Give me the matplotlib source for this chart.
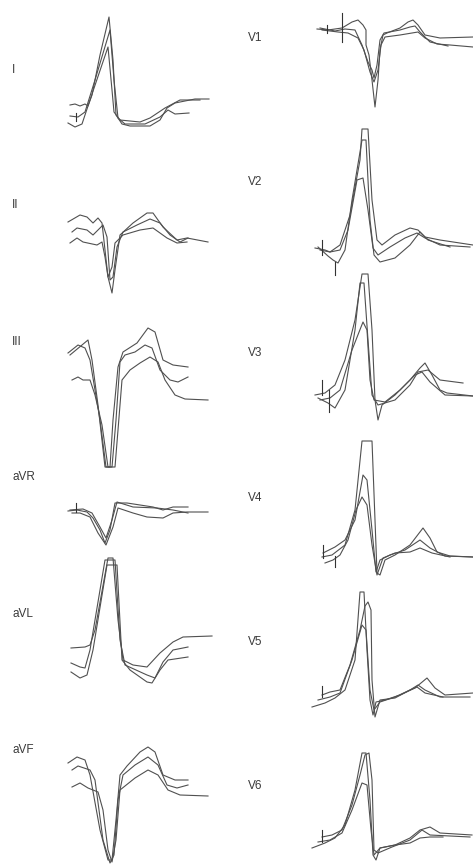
import matplotlib
matplotlib.use("Agg")
import matplotlib.pyplot as plt

plt.rcParams['font.family'] = ['Liberation Sans', 'DejaVu Sans']

# lead names, two columns
left_leads = ["I", "II", "III", "aVR", "aVL", "aVF"]
right_leads = ["V1", "V2", "V3", "V4", "V5", "V6"]

# each trace: (time offsets, amplitudes) relative to the lead start / baseline
I_traces = [
    ([2, 7, 12, 17, 20, 24, 32, 41, 45, 48, 54, 62, 72, 82, 92, 99, 107, 117, 127, 141],
     [11, 12, 10, 12, 10, 21, 61, 99, 56, 1, -8, -10, -10, -10, -4, 8, 13, 15, 17, 17]),
    ([2, 10, 17, 27, 42, 46, 50, 57, 77, 92, 100, 107, 121],
     [0, -1, 4, 36, 86, 36, -2, -8, -8, -1, 6, 2, 3]),
    ([0, 7, 14, 22, 40, 44, 46, 52, 72, 82, 97, 112, 132],
     [-7, -11, -8, 16, 69, 26, 4, -4, -6, -2, 8, 16, 16]),
]
II_traces = [
    ([0, 12, 19, 25, 30, 34, 40, 44, 47, 52, 65, 79, 85, 95, 109, 119, 140],
     [13, 20, 18, 12, 17, 12, -42, -58, -35, 0, 12, 22, 22, 8, -5, -3, -7]),
    ([4, 9, 19, 25, 30, 35, 39, 42, 45, 49, 55, 69, 82, 92, 102, 112, 120],
     [3, 7, 5, 0, 5, 10, -2, -45, -42, -12, 3, 10, 16, 12, 0, -7, -3]),
    ([2, 9, 15, 29, 34, 37, 40, 44, 47, 55, 72, 85, 99, 109, 119],
     [-8, -3, -7, -10, -7, -22, -42, -32, -8, 0, 5, 7, -3, -8, -7]),
]
III_traces = [
    ([0, 10, 17, 22, 32, 38, 42, 45, 50, 55, 69, 80, 87, 95, 105, 120],
     [2, 10, 7, -5, -65, -112, -112, -65, -12, 3, 12, 27, 23, -5, -10, -12]),
    ([2, 8, 20, 24, 30, 37, 44, 48, 52, 57, 67, 77, 84, 92, 102, 110, 120],
     [0, 5, 15, -5, -50, -112, -112, -65, -7, 0, 3, 10, 7, -15, -25, -27, -22]),
    ([4, 10, 15, 22, 27, 34, 40, 47, 50, 54, 62, 72, 82, 90, 97, 107, 117, 140],
     [-25, -22, -25, -25, -40, -70, -112, -112, -75, -25, -15, -8, -2, -7, -25, -40, -44, -45]),
]
aVR_traces = [
    ([0, 9, 19, 25, 32, 37, 42, 47, 59, 85, 95, 105, 120],
     [1, 2, 0, -6, -18, -31, -18, 9, 9, 5, 2, 5, 5]),
    ([2, 15, 24, 32, 38, 44, 49, 65, 89, 105, 120],
     [2, 3, -1, -15, -26, -8, 10, 5, 4, 2, -1]),
    ([4, 12, 22, 30, 38, 45, 50, 65, 79, 95, 105, 119, 140],
     [-1, -1, -5, -21, -33, -15, 4, -1, -5, -6, -1, 0, 0]),
]
aVL_traces = [
    ([3, 17, 22, 27, 40, 45, 50, 55, 65, 79, 92, 105, 115, 144],
     [15, 16, 18, 33, 105, 105, 43, 3, -2, -4, 10, 21, 26, 27]),
    ([3, 12, 17, 22, 37, 47, 52, 57, 79, 87, 95, 105, 120],
     [0, -4, -5, 13, 103, 103, 23, -2, -12, -15, 1, 13, 16]),
    ([3, 12, 19, 25, 39, 49, 54, 62, 79, 84, 92, 100, 120],
     [-9, -15, -12, 13, 98, 98, 3, -7, -19, -20, -7, 3, 6]),
]
aVF_traces = [
    ([0, 9, 17, 22, 32, 40, 44, 48, 52, 59, 72, 80, 87, 95, 107, 120],
     [12, 18, 15, 0, -55, -85, -85, -45, 0, 9, 23, 28, 23, 0, -5, -5]),
    ([4, 10, 22, 27, 35, 42, 46, 50, 55, 67, 80, 90, 99, 109, 120],
     [5, 9, 5, -5, -65, -88, -80, -25, 0, 10, 18, 10, -10, -13, -10]),
    ([4, 12, 20, 30, 35, 40, 44, 48, 52, 67, 80, 90, 100, 112, 140],
     [-12, -8, -13, -17, -35, -75, -87, -65, -15, -3, 5, 0, -15, -20, -21]),
]
V1_traces = [
    ([5, 16, 30, 40, 46, 51, 54, 54, 57, 60, 63, 66, 68, 71, 75, 88, 96, 101, 106, 113, 128, 161],
     [1, 0, 2, 8, 10, 5, 0, -15, -25, -50, -77, -50, -20, -5, -3, 2, 8, 10, 5, -5, -8, -7]),
    ([8, 23, 33, 43, 50, 56, 60, 62, 65, 68, 72, 88, 98, 103, 108, 118, 136],
     [2, -1, 1, 0, -15, -32, -40, -48, -35, -10, -3, 0, 3, 4, -2, -12, -16]),
    ([10, 26, 36, 46, 52, 58, 62, 66, 69, 73, 88, 100, 106, 113, 125, 138, 161],
     [0, -2, -3, -8, -20, -42, -52, -40, -15, -7, -5, -3, -2, -8, -14, -15, -17]),
]
V2_traces = [
    ([3, 13, 18, 28, 38, 48, 50, 56, 60, 65, 70, 83, 98, 106, 113, 128, 161],
     [0, -2, -4, 3, 33, 88, 119, 119, 48, 8, 3, 13, 20, 18, 11, 8, 3]),
    ([6, 16, 21, 26, 33, 40, 50, 54, 58, 62, 68, 83, 98, 108, 116, 138],
     [1, -8, -12, -15, -2, 48, 108, 108, 28, -7, -14, -10, 3, 16, 8, 1]),
    ([8, 18, 28, 36, 45, 51, 56, 61, 66, 78, 93, 105, 113, 128, 158],
     [-2, -4, -2, 18, 68, 70, 38, 0, -7, 1, 10, 15, 10, 3, 1]),
]
V3_traces = [
    ([3, 13, 23, 33, 43, 50, 56, 60, 63, 66, 70, 83, 98, 108, 113, 120, 128, 135, 161],
     [1, 3, 11, 36, 76, 122, 122, 66, -4, -24, -9, 1, 16, 28, 33, 21, 6, 3, 0]),
    ([6, 16, 23, 33, 43, 48, 52, 56, 60, 66, 83, 98, 106, 116, 128, 151],
     [-2, -7, -12, 6, 66, 113, 113, 56, 1, -9, -4, 11, 24, 26, 16, 13]),
    ([8, 18, 28, 40, 51, 55, 58, 62, 73, 88, 103, 110, 118, 133, 161],
     [-4, -2, 6, 46, 74, 66, 16, -4, -6, 6, 21, 24, 14, 1, 0]),
]
V4_traces = [
    ([10, 20, 33, 43, 50, 60, 63, 65, 68, 73, 83, 98, 111, 118, 125, 138, 161],
     [-2, 0, 10, 45, 114, 114, 35, -18, -20, -5, 0, 10, 27, 17, 3, -1, -2]),
    ([11, 23, 33, 43, 51, 55, 60, 64, 68, 78, 93, 108, 118, 133, 161],
     [2, 8, 15, 35, 80, 75, 25, -17, -5, 0, 5, 15, 7, -1, -2]),
    ([13, 21, 28, 36, 44, 50, 55, 60, 65, 71, 83, 98, 108, 120, 138],
     [-8, -5, 0, 15, 45, 58, 50, 10, -20, -3, 2, 3, 7, 2, -2]),
]
V5_traces = [
    ([0, 13, 23, 33, 43, 48, 52, 55, 58, 61, 64, 73, 88, 103, 115, 123, 133, 161],
     [-10, -6, -1, 7, 37, 105, 105, 47, -3, -18, -5, -3, 2, 9, 19, 9, 2, 4]),
    ([10, 18, 28, 38, 48, 53, 56, 59, 60, 63, 68, 83, 98, 106, 113, 128, 158],
     [2, 5, 7, 32, 67, 91, 95, 87, 17, -20, -3, -1, 7, 12, 7, 0, 0]),
    ([6, 18, 28, 40, 50, 54, 58, 62, 68, 83, 98, 105, 113, 131],
     [-3, 0, 4, 37, 72, 67, 7, -13, -5, 0, 7, 10, 4, 0]),
]
V6_traces = [
    ([0, 13, 23, 33, 43, 50, 54, 58, 61, 64, 68, 83, 98, 108, 118, 128, 160],
     [-8, -3, 2, 15, 50, 87, 87, 40, -15, -20, -8, -5, 2, 10, 13, 7, 5]),
    ([10, 20, 30, 40, 48, 53, 57, 60, 62, 66, 80, 98, 110, 118, 158],
     [3, 5, 10, 35, 65, 85, 87, 60, -10, -13, -7, 0, 10, 5, 3]),
    ([6, 18, 30, 40, 50, 55, 59, 62, 68, 83, 98, 108, 118, 131],
     [-2, 0, 7, 30, 57, 55, 10, -15, -8, -5, -3, 2, 3, 3]),
]

# small calibration ticks: (time, low, high)
marks = {
    "I": [(8, -5, 3)],
    "aVR": [(8, 0, 9)],
    "V1": [(15, -3, 5), (30, -12, 17)],
    "V2": [(10, -7, 8), (23, -27, -14)],
    "V3": [(10, 1, 16), (17, -16, 6)],
    "V4": [(11, -3, 10), (23, -12, -1)],
    "V5": [(10, 0, 11)],
    "V6": [(10, -2, 10)],
}

traces = {
    "I": I_traces, "II": II_traces, "III": III_traces,
    "aVR": aVR_traces, "aVL": aVL_traces, "aVF": aVF_traces,
    "V1": V1_traces, "V2": V2_traces, "V3": V3_traces,
    "V4": V4_traces, "V5": V5_traces, "V6": V6_traces,
}

# layout (pixels): trace start x, baseline y, label y
left_x0, right_x0 = 68, 312
left_label_x, right_label_x = 12, 248
left_base = [116, 235, 355, 512, 663, 775]
left_label_y = [70, 205, 342, 477, 614, 750]
right_base = [30, 248, 396, 555, 697, 840]
right_label_y = [38, 182, 353, 498, 642, 786]

fig = plt.figure(figsize=(4.73, 8.67), dpi=100)
ax = fig.add_axes([0, 0, 1, 1])
ax.set_xlim(0, 473)
ax.set_ylim(867, 0)
ax.axis('off')

trace_color = '#505050'


def draw_lead(name, x0, y0, lx, ly):
    ax.text(lx, ly, name, fontsize=8.5, color='#3a3a3a', va='center', ha='left')
    for t, v in traces[name]:
        ax.plot([x0 + a for a in t], [y0 - b for b in v],
                color=trace_color, lw=0.8, solid_joinstyle='round')
    for t, lo, hi in marks.get(name, []):
        ax.plot([x0 + t, x0 + t], [y0 - lo, y0 - hi], color='#333333', lw=0.8)


for i, name in enumerate(left_leads):
    draw_lead(name, left_x0, left_base[i], left_label_x, left_label_y[i])
for i, name in enumerate(right_leads):
    draw_lead(name, right_x0, right_base[i], right_label_x, right_label_y[i])

fig.savefig('out.png', dpi=100, facecolor='white')
